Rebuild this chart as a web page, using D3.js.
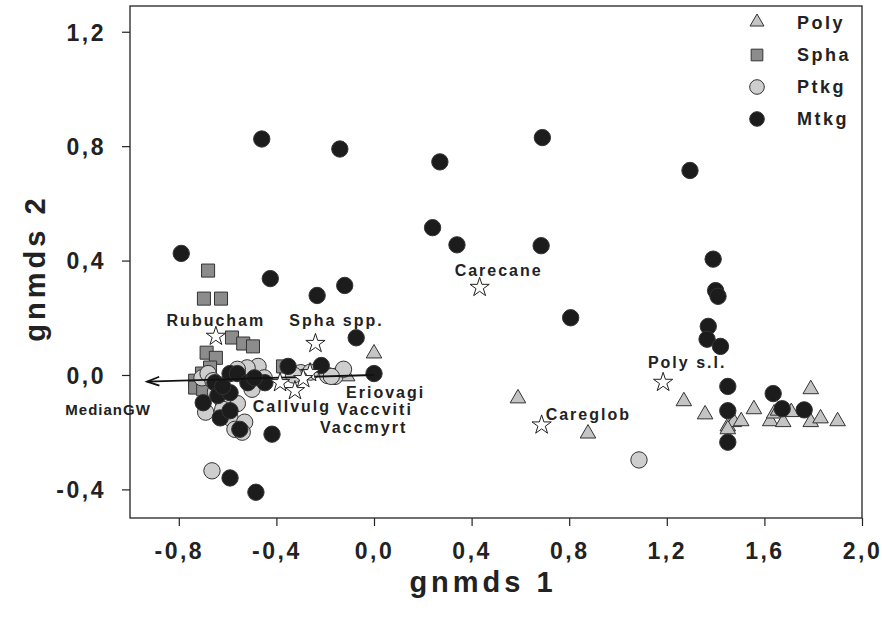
<!DOCTYPE html>
<html>
<head>
<meta charset="utf-8">
<script src="https://cdn.jsdelivr.net/npm/d3@7"></script>
<style>
  body { margin: 0; background: #fff; }
  text { font-family: "Liberation Sans", Arial, sans-serif; font-weight: bold; fill: #222; }
</style>
</head>
<body>
<div class="chart"></div>
<script>
// site scores, one array per group: [gnmds1, gnmds2]
var polyPts = [[0.0,0.07],[-0.11,-0.01],[0.59,-0.087],[0.877,-0.21],[1.27,-0.097],[1.357,-0.143],
    [1.45,-0.185],[1.475,-0.17],[1.505,-0.167],[1.45,-0.195],[1.557,-0.125],[1.624,-0.167],
    [1.64,-0.14],[1.656,-0.13],[1.677,-0.17],[1.71,-0.135],[1.79,-0.055],[1.79,-0.17],
    [1.83,-0.157],[1.90,-0.167]];
var sphaPts = [[-0.68,0.365],[-0.697,0.267],[-0.627,0.267],[-0.582,0.131],[-0.536,0.11],[-0.496,0.1],
    [-0.686,0.078],[-0.648,0.06],[-0.672,0.026],[-0.705,0.005],[-0.733,-0.02],[-0.733,-0.044],
    [-0.373,0.03],[-0.70,-0.05],[-0.62,-0.03]];
var ptkgPts = [[-0.664,-0.335],[1.086,-0.297],[-0.475,0.03],[-0.52,0.025],[-0.30,0.008],[-0.19,-0.002],
    [-0.16,-0.005],[-0.125,0.02],[-0.175,-0.005],[-0.705,-0.01],[-0.68,0.005],[-0.56,0.02],
    [-0.56,-0.10],[-0.59,-0.15],[-0.53,-0.165],[-0.57,-0.19],[-0.54,-0.2],[-0.66,-0.02],
    [-0.65,-0.06],[-0.62,-0.09],[-0.50,-0.05],[-0.45,-0.01],[-0.33,0.0],[-0.26,0.01],
    [-0.62,-0.12],[-0.69,-0.13]];
var mtkgPts = [[-0.79,0.425],[-0.46,0.825],[-0.14,0.79],[0.27,0.745],[0.69,0.83],[0.24,0.515],
    [0.34,0.455],[0.685,0.452],[1.295,0.715],[1.39,0.405],[1.40,0.295],[1.41,0.275],[1.37,0.17],
    [1.365,0.125],[1.42,0.1],[1.45,-0.04],[1.45,-0.125],[1.45,-0.235],[1.636,-0.065],[1.673,-0.118],
    [1.763,-0.122],[-0.425,0.337],[-0.233,0.278],[-0.12,0.313],[-0.073,0.13],[0.806,0.2],[0.0,0.005],
    [-0.216,0.033],[-0.352,0.03],[-0.418,-0.207],[-0.59,-0.36],[-0.484,-0.41],
    [-0.59,0.005],[-0.652,-0.027],[-0.56,0.005],[-0.517,-0.027],[-0.447,-0.027],[-0.70,-0.097],
    [-0.64,-0.072],[-0.59,-0.062],[-0.63,-0.15],[-0.59,-0.125],[-0.55,-0.19],[-0.62,-0.04],[-0.49,-0.01]];

// species scores
var speciesNames = ["Rubucham","Spha spp.","Carecane","Poly s.l.","Careglob","Callvulg","Eriovagi","Vaccviti","Vaccmyrt"];
var speciesX = [-0.648,-0.24,0.433,1.185,0.687,-0.324,-0.262,-0.29,-0.385];
var speciesY = [0.135,0.11,0.306,-0.026,-0.175,-0.055,0.008,-0.013,-0.027];

// environmental vector
var vectorName = "MedianGW";
var vectorEnd = [-0.93,-0.023];

var groupNames = ["Poly","Spha","Ptkg","Mtkg"];
var xTicks = [-0.8,-0.4,0.0,0.4,0.8,1.2,1.6,2.0];
var yTicks = [-0.4,0.0,0.4,0.8,1.2];

// label placement (pixels relative to the star) and anchor
var labelLayout = [[0,-16,"middle"],[21,-23,"middle"],[19,-17,"middle"],[24,-20,"middle"],
    [4,-11,"start"],[-3,16,"middle"],[36,20,"start"],[34,31,"start"],[40,45,"start"]];

var width = 882, height = 626;
var margin = {top: 6, right: 20, bottom: 108, left: 130};

var svg = d3.select("div.chart")
    .append("svg")
    .attr("width", width)
    .attr("height", height);

var x = d3.scaleLinear().domain([-1.0, 2.0]).range([margin.left, width - margin.right]);
var y = d3.scaleLinear().domain([-0.5, 1.29]).range([height - margin.bottom, margin.top]);

// comma decimals, plain hyphen for minus
var fmt = function (d) { return d.toFixed(1).replace(".", ","); };

// axes
var xAxis = svg.append("g")
    .attr("transform", "translate(0," + (height - margin.bottom) + ")")
    .call(d3.axisBottom(x).tickValues(xTicks).tickFormat(fmt).tickSizeInner(8).tickSizeOuter(0).tickPadding(17));
var yAxis = svg.append("g")
    .attr("transform", "translate(" + margin.left + ",0)")
    .call(d3.axisLeft(y).tickValues(yTicks).tickFormat(fmt).tickSizeInner(8).tickSizeOuter(0).tickPadding(16));

[xAxis, yAxis].forEach(function (a) {
    a.select(".domain").remove();
    a.selectAll("line").attr("stroke", "#222").attr("stroke-width", 1.2);
    a.selectAll("text")
        .style("font-size", "23px")
        .style("letter-spacing", "2.5px")
        .attr("fill", "#222");
});
yAxis.selectAll("text").attr("dy", "0.36em");

// frame
svg.append("rect")
    .attr("x", margin.left)
    .attr("y", margin.top)
    .attr("width", width - margin.right - margin.left)
    .attr("height", height - margin.bottom - margin.top)
    .attr("fill", "none")
    .attr("stroke", "#222")
    .attr("stroke-width", 1.3);

// axis titles
svg.append("text")
    .attr("x", 483).attr("y", 592)
    .attr("text-anchor", "middle")
    .style("font-size", "29px")
    .style("letter-spacing", "4px")
    .text("gnmds 1");
svg.append("text")
    .attr("transform", "translate(45,268) rotate(-90)")
    .attr("text-anchor", "middle")
    .style("font-size", "29px")
    .style("letter-spacing", "4px")
    .text("gnmds 2");

var styles = {
    Poly: {shape: d3.symbolTriangle, size: 105, fill: "#c4c4c4"},
    Spha: {shape: d3.symbolSquare, size: 170, fill: "#8c8c8c"},
    Ptkg: {shape: d3.symbolCircle, size: 210, fill: "#cecece"},
    Mtkg: {shape: d3.symbolCircle, size: 210, fill: "#1c1c1c"}
};

function drawGroup(pts, name) {
    var st = styles[name];
    svg.append("g").selectAll("path")
        .data(pts)
        .enter().append("path")
        .attr("d", d3.symbol().type(st.shape).size(st.size))
        .attr("transform", function (d) {
            var dy = st.shape === d3.symbolTriangle ? -1.5 : 0;
            return "translate(" + x(d[0]) + "," + (y(d[1]) + dy) + ")";
        })
        .attr("fill", st.fill)
        .attr("stroke", "#333")
        .attr("stroke-width", 1);
}

drawGroup(polyPts, "Poly");
drawGroup(sphaPts, "Spha");
drawGroup(ptkgPts, "Ptkg");
drawGroup(mtkgPts, "Mtkg");

// vector arrow
var ax = x(vectorEnd[0]), ay = y(vectorEnd[1]);
svg.append("line")
    .attr("x1", x(0)).attr("y1", y(0))
    .attr("x2", ax).attr("y2", ay)
    .attr("stroke", "#111").attr("stroke-width", 1.8);
var ang = Math.atan2(y(0) - ay, x(0) - ax);
svg.append("path")
    .attr("d", "M" + (ax + 13 * Math.cos(ang - 0.35)) + "," + (ay + 13 * Math.sin(ang - 0.35)) +
        "L" + ax + "," + ay +
        "L" + (ax + 13 * Math.cos(ang + 0.35)) + "," + (ay + 13 * Math.sin(ang + 0.35)))
    .attr("fill", "none").attr("stroke", "#111").attr("stroke-width", 1.8);
svg.append("text")
    .attr("x", ax - 39).attr("y", ay + 33)
    .attr("text-anchor", "middle")
    .style("font-size", "15px")
    .style("letter-spacing", "1px")
    .text(vectorName);

// species stars and labels
var star = d3.symbol().type(d3.symbolStar).size(115);
svg.append("g").selectAll("path")
    .data(speciesNames)
    .enter().append("path")
    .attr("d", star)
    .attr("transform", function (d, i) { return "translate(" + x(speciesX[i]) + "," + y(speciesY[i]) + ")"; })
    .attr("fill", "#fff")
    .attr("stroke", "#222")
    .attr("stroke-width", 1);

svg.append("g").selectAll("text")
    .data(speciesNames)
    .enter().append("text")
    .attr("x", function (d, i) { return x(speciesX[i]) + labelLayout[i][0]; })
    .attr("y", function (d, i) { return y(speciesY[i]) + labelLayout[i][1]; })
    .attr("dy", "0.36em")
    .attr("text-anchor", function (d, i) { return labelLayout[i][2]; })
    .style("font-size", "16px")
    .style("letter-spacing", "2px")
    .text(function (d) { return d; });

// legend
var legend = svg.append("g").attr("transform", "translate(757,23)");
var leg = legend.selectAll("g")
    .data(groupNames)
    .enter().append("g")
    .attr("transform", function (d, i) { return "translate(0," + (i * 32) + ")"; });
leg.append("path")
    .attr("d", function (d) {
        var st = styles[d];
        return d3.symbol().type(st.shape).size(st.size * 0.8)();
    })
    .attr("transform", function (d) { return d === "Poly" ? "translate(0,-1)" : null; })
    .attr("fill", function (d) { return styles[d].fill; })
    .attr("stroke", "#333")
    .attr("stroke-width", 1);
leg.append("text")
    .attr("x", 40)
    .attr("dy", "0.36em")
    .style("font-size", "18px")
    .style("letter-spacing", "2.5px")
    .text(function (d) { return d; });
</script>
</body>
</html>
